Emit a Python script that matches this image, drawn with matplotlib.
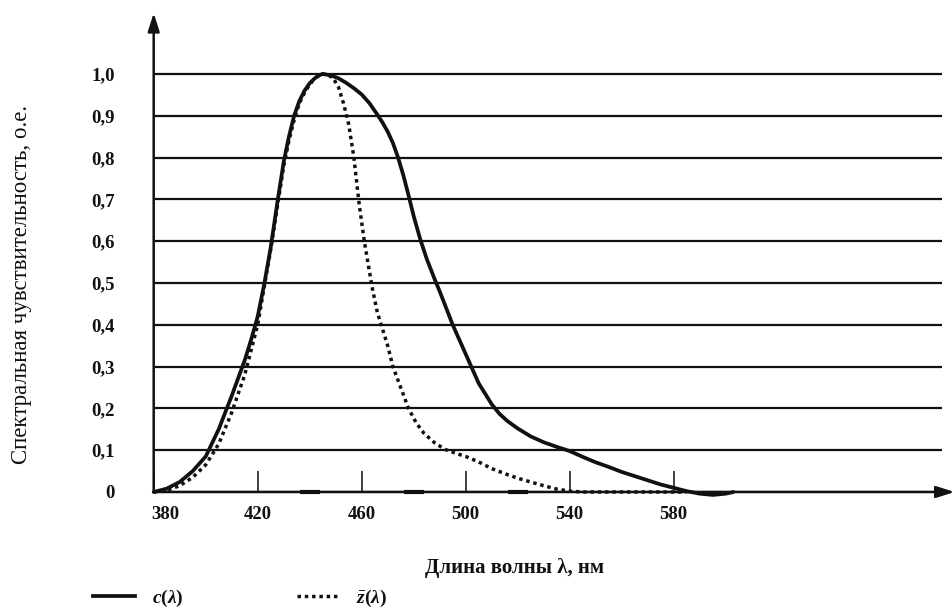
import matplotlib
matplotlib.use('Agg')
import matplotlib.pyplot as plt
import matplotlib.transforms as mtransforms
from matplotlib.lines import Line2D

plt.rcParams['font.family'] = ['Liberation Serif', 'DejaVu Serif']
plt.rcParams['mathtext.fontset'] = 'custom'
plt.rcParams['mathtext.rm'] = 'Liberation Serif:bold'
plt.rcParams['mathtext.it'] = 'Liberation Serif:italic:bold'

# c(lambda), solid curve
wl_c = [380, 385, 390, 395, 400, 405, 410, 415, 417.5, 420, 422.5, 425, 427.5,
        430, 432, 434, 436, 438, 440, 442, 444, 445, 448, 451, 454, 457, 460,
        463, 466, 468, 470, 472, 474, 476, 478, 480, 482.5, 485, 488, 490, 495,
        500, 505, 510, 513, 516, 520, 525, 530, 535, 540, 545, 550, 555, 560,
        565, 570, 575, 580, 585, 590, 595, 600, 603]
c_val = [0.0, 0.008, 0.024, 0.05, 0.085, 0.15, 0.23, 0.315, 0.365, 0.42, 0.497,
         0.585, 0.69, 0.79, 0.85, 0.9, 0.935, 0.96, 0.978, 0.99, 0.998, 1.0,
         0.997, 0.99, 0.979, 0.966, 0.951, 0.93, 0.903, 0.884, 0.862, 0.835,
         0.80, 0.758, 0.71, 0.66, 0.605, 0.558, 0.51, 0.48, 0.40, 0.33, 0.26,
         0.21, 0.187, 0.17, 0.152, 0.133, 0.119, 0.108, 0.098, 0.084, 0.071,
         0.06, 0.048, 0.038, 0.028, 0.018, 0.010, 0.002, -0.004, -0.007,
         -0.004, 0.0]

# z-bar(lambda), dotted curve
wl_z = [380, 385, 390, 395, 400, 405, 410, 415, 420, 425, 430, 432, 434, 436,
        438, 440, 442, 444, 445, 447, 449, 451, 453, 455, 457, 459, 461, 464,
        466, 468, 470, 472, 475, 478, 481, 484, 488, 492, 496, 500, 505, 510,
        515, 520, 525, 530, 535, 540, 545, 560, 585]
z_val = [0.0, 0.004, 0.015, 0.035, 0.065, 0.115, 0.19, 0.28, 0.40, 0.58, 0.78,
         0.84, 0.89, 0.93, 0.955, 0.975, 0.99, 0.998, 1.0, 0.998, 0.99, 0.97,
         0.93, 0.88, 0.80, 0.69, 0.60, 0.49, 0.43, 0.39, 0.35, 0.30, 0.25,
         0.20, 0.165, 0.14, 0.118, 0.102, 0.093, 0.085, 0.072, 0.056, 0.044,
         0.033, 0.024, 0.015, 0.007, 0.002, 0.0, 0.0, 0.0]

x_ticks = [380, 420, 460, 500, 540, 580]
x_minor = [440, 480, 520]
y_ticks = [0, 0.1, 0.2, 0.3, 0.4, 0.5, 0.6, 0.7, 0.8, 0.9, 1.0]
y_labels = ['0', '0,1', '0,2', '0,3', '0,4', '0,5', '0,6', '0,7', '0,8', '0,9', '1,0']

W, H = 953, 612
fig = plt.figure(figsize=(W / 100, H / 100), dpi=100)
ax = fig.add_axes([153.7 / W, (H - 492) / H, (942 - 153.7) / W, (492 - 13) / H])
ax.set_xlim(380, 380 + (942 - 153.7) / 2.6)
ax.set_ylim(0, (492 - 13) / 418)

for s in ax.spines.values():
    s.set_visible(False)

ink = '#111111'
ax.set_yticks(y_ticks)
ax.set_yticklabels(y_labels, fontweight='bold', fontsize=13.5, color=ink)
ax.tick_params(axis='y', length=0, pad=28)
ax.grid(axis='y', color=ink, lw=1.6)
ax.set_axisbelow(True)

ax.set_xticks(x_ticks)
ax.set_xticklabels([str(v) for v in x_ticks], fontweight='bold', fontsize=13.5, color=ink)
ax.tick_params(axis='x', direction='in', length=15, width=1.1, color=ink, pad=10)
# first label sits a bit to the right of the axis corner
lab0 = ax.get_xticklabels()[0]
lab0.set_transform(lab0.get_transform() + mtransforms.ScaledTranslation(12 / 100, 0, fig.dpi_scale_trans))

# small marks on the axis between ticks
ax.plot(x_minor, [0] * len(x_minor), ls='none', marker='_', ms=14, mew=3,
        color=ink, clip_on=False, zorder=4)

# axes with arrows
ax.annotate('', xy=(0, 1), xycoords='axes fraction', xytext=(0, 0),
            arrowprops=dict(arrowstyle='-|>,head_length=1.1,head_width=0.35',
                            lw=1.8, color=ink, shrinkA=0, shrinkB=0))
ax.annotate('', xy=(1.016, 0), xycoords='axes fraction', xytext=(0, 0),
            arrowprops=dict(arrowstyle='-|>,head_length=1.1,head_width=0.35',
                            lw=1.8, color=ink, shrinkA=0, shrinkB=0))

ax.plot(wl_c, c_val, '-', color=ink, lw=2.7, clip_on=False, zorder=5,
        solid_capstyle='round', solid_joinstyle='round')
ax.plot(wl_z, z_val, color=ink, lw=2.5, ls=(0, (1, 1.1)), clip_on=False, zorder=6)

ax.set_xlabel('Длина волны λ, нм', fontsize=15, fontweight='bold', color=ink)
ax.xaxis.set_label_coords((515 - 153.7) / (942 - 153.7), -(558 - 492) / (492 - 13))
fig.text(22 / W, 1 - 284 / H, 'Спектральная чувствительность, о.е.',
         rotation=90, ha='center', va='center', fontsize=16.5, color=ink)

handles = [Line2D([], [], color=ink, lw=2.7),
           Line2D([], [], color=ink, lw=2.5, ls=(0, (1, 1.1)))]
fig.legend(handles, [r'$c(\lambda)$', r'$\bar{z}(\lambda)$'], ncol=2,
           loc='center left', bbox_to_anchor=(93 / W, 14 / H),
           bbox_transform=fig.transFigure, frameon=False, fontsize=14,
           handlelength=2.15, handletextpad=0.9, columnspacing=5.8,
           borderpad=0, borderaxespad=0, labelcolor=ink)

fig.savefig('out.png', dpi=100, facecolor='white')
